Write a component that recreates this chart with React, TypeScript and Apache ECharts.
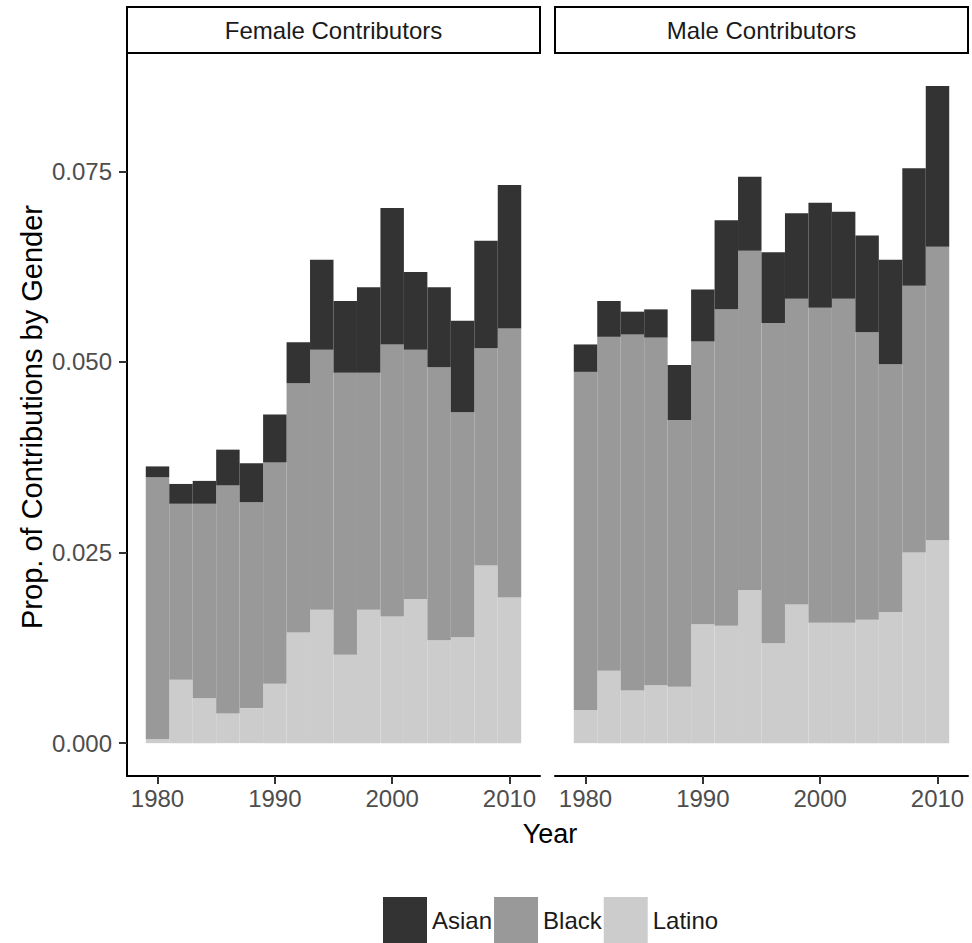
import React, { useEffect, useRef } from 'react';
import * as echarts from 'echarts';

const years = [1980, 1982, 1984, 1986, 1988, 1990, 1992, 1994, 1996, 1998, 2000, 2002, 2004, 2006, 2008, 2010];

const femaleLatino = [0.0005, 0.0083, 0.0059, 0.0039, 0.0046, 0.0078, 0.0145, 0.0175, 0.0116, 0.0175, 0.0166, 0.0189, 0.0135, 0.0139, 0.0233, 0.0191];
const femaleBlack = [0.0344, 0.0231, 0.0255, 0.0299, 0.0270, 0.0290, 0.0327, 0.0341, 0.0370, 0.0311, 0.0357, 0.0327, 0.0358, 0.0295, 0.0285, 0.0353];
const femaleAsian = [0.0014, 0.0026, 0.0030, 0.0047, 0.0051, 0.0063, 0.0054, 0.0118, 0.0094, 0.0112, 0.0179, 0.0102, 0.0105, 0.0120, 0.0141, 0.0188];

const maleLatino = [0.0043, 0.0095, 0.0069, 0.0076, 0.0074, 0.0156, 0.0154, 0.0201, 0.0131, 0.0182, 0.0158, 0.0158, 0.0162, 0.0172, 0.0250, 0.0266];
const maleBlack = [0.0444, 0.0438, 0.0467, 0.0456, 0.0350, 0.0371, 0.0415, 0.0445, 0.0420, 0.0401, 0.0413, 0.0425, 0.0377, 0.0325, 0.0350, 0.0385];
const maleAsian = [0.0036, 0.0047, 0.0030, 0.0037, 0.0072, 0.0068, 0.0117, 0.0097, 0.0093, 0.0112, 0.0138, 0.0114, 0.0127, 0.0137, 0.0154, 0.0211];

const xTicks = [1980, 1990, 2000, 2010];
const yTicks = [0, 0.025, 0.05, 0.075];
const panels = ['Female Contributors', 'Male Contributors'];
const legendOrder = ['Asian', 'Black', 'Latino'];
const stackOrder = ['Latino', 'Black', 'Asian'];
const colors: Record<string, string> = { Asian: '#333333', Black: '#999999', Latino: '#cccccc' };

export default function App() {
  const ref = useRef<HTMLDivElement>(null);

  useEffect(() => {
    document.body.style.margin = '0';
    const chart = echarts.init(ref.current as HTMLDivElement, null, { renderer: 'svg' });
    const font = '"Liberation Sans", Arial, Helvetica, sans-serif';

    const panelData: Record<string, number[]>[] = [
      { Latino: femaleLatino, Black: femaleBlack, Asian: femaleAsian },
      { Latino: maleLatino, Black: maleBlack, Asian: maleAsian },
    ];

    const gridLeft = [127, 555];
    const gridTop = 53;
    const gridW = 413;
    const gridH = 723;

    const xAxes = [0, 1].map((i) => ({
      type: 'value',
      gridIndex: i,
      min: 1977.4,
      max: 2012.6,
      axisLine: { show: true, onZero: false, lineStyle: { color: '#000', width: 2 } },
      axisTick: { show: true, length: 8, customValues: xTicks, lineStyle: { color: '#333', width: 2 } },
      axisLabel: {
        show: true,
        customValues: xTicks,
        margin: 10,
        color: '#4d4d4d',
        fontSize: 24,
        fontFamily: font,
        formatter: (v: number) => String(v),
      },
      splitLine: { show: false },
    }));

    const yAxes = [0, 1].map((i) => ({
      type: 'value',
      gridIndex: i,
      min: -0.00431,
      max: 0.09053,
      axisLine: { show: i === 0, onZero: false, lineStyle: { color: '#000', width: 2 } },
      axisTick: { show: i === 0, length: 8, customValues: yTicks, lineStyle: { color: '#333', width: 2 } },
      axisLabel: {
        show: i === 0,
        customValues: yTicks,
        margin: 15,
        color: '#4d4d4d',
        fontSize: 24,
        fontFamily: font,
        formatter: (v: number) => v.toFixed(3),
      },
      splitLine: { show: false },
    }));

    // value column first so that the stack is computed on the y dimension
    const series = panelData.flatMap((d, i) =>
      stackOrder.map((g) => ({
        type: 'bar',
        name: g,
        xAxisIndex: i,
        yAxisIndex: i,
        stack: 'panel' + i,
        barWidth: '100%',
        encode: { x: 1, y: 0 },
        itemStyle: { color: colors[g] },
        emphasis: { disabled: true },
        silent: true,
        data: years.map((y, k) => [d[g][k], y]),
      }))
    );

    const graphic: any[] = [];
    panels.forEach((p, i) => {
      graphic.push({
        type: 'rect',
        shape: { x: gridLeft[i], y: 7, width: gridW, height: 46 },
        style: { fill: '#ffffff', stroke: '#000000', lineWidth: 2 },
      });
      graphic.push({
        type: 'text',
        x: gridLeft[i] + gridW / 2,
        y: 30,
        style: { text: p, fill: '#1a1a1a', fontSize: 24, fontFamily: font, align: 'center', verticalAlign: 'middle' },
      });
    });
    graphic.push({
      type: 'text',
      x: 550,
      y: 834,
      style: { text: 'Year', fill: '#000', fontSize: 27, fontFamily: font, align: 'center', verticalAlign: 'middle' },
    });
    graphic.push({
      type: 'text',
      x: 32,
      y: 417,
      rotation: Math.PI / 2,
      style: {
        text: 'Prop. of Contributions by Gender',
        fill: '#000',
        fontSize: 29,
        fontFamily: font,
        align: 'center',
        verticalAlign: 'middle',
      },
    });

    chart.setOption({
      animation: false,
      backgroundColor: '#ffffff',
      grid: gridLeft.map((l) => ({ left: l, top: gridTop, width: gridW, height: gridH, containLabel: false })),
      xAxis: xAxes,
      yAxis: yAxes,
      legend: {
        data: legendOrder,
        left: 383,
        top: 897,
        padding: 0,
        itemWidth: 44,
        itemHeight: 46,
        itemGap: 2,
        icon: 'rect',
        selectedMode: false,
        textStyle: { fontSize: 24, color: '#1a1a1a', fontFamily: font },
      },
      series,
      graphic,
    });

    return () => {
      chart.dispose();
    };
  }, []);

  return <div ref={ref} style={{ width: 972, height: 943 }} />;
}
